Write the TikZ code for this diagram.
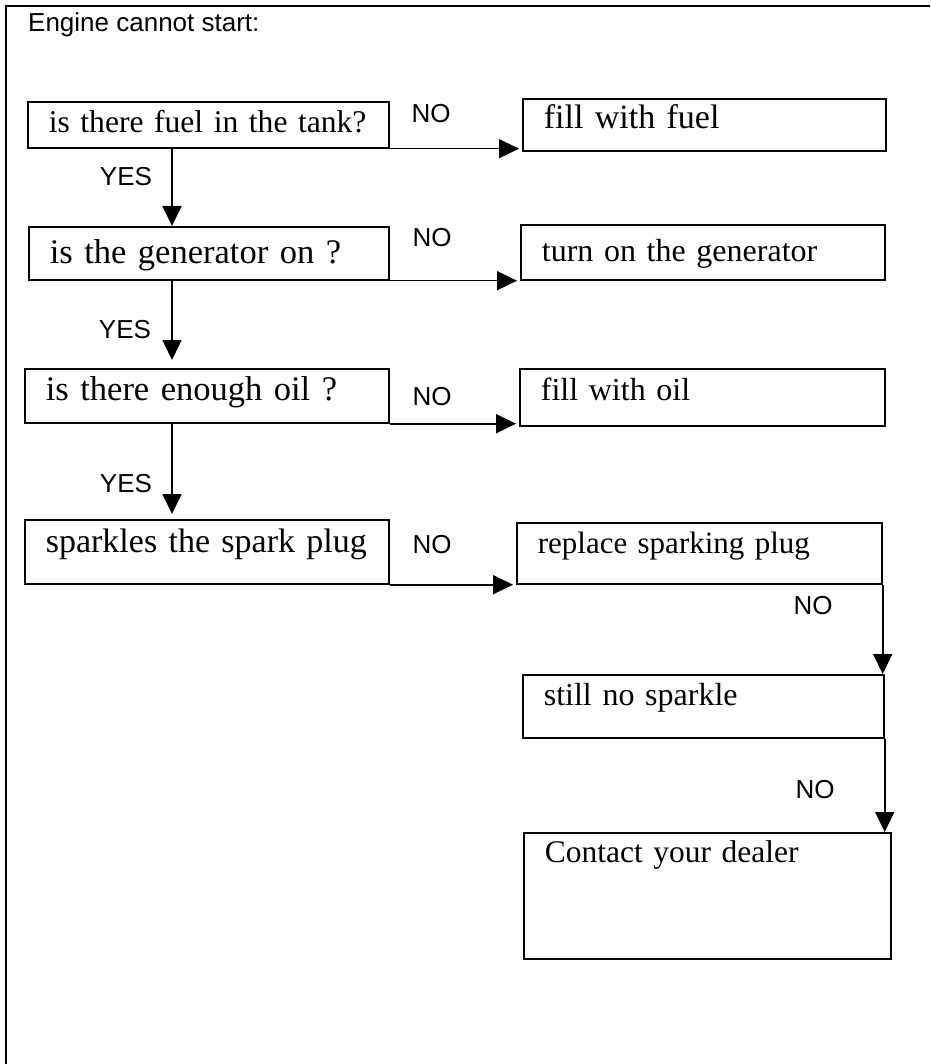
\documentclass[tikz,border=0pt]{standalone}
\usepackage{fontspec}
\setmainfont{Liberation Serif}
\setsansfont{Liberation Sans}
\usepackage{tikz}
\usetikzlibrary{arrows.meta}
\newcommand{\boxfont}[1]{\fontsize{#1}{#1}\selectfont}
\newcommand{\tagfont}{\sffamily\fontsize{26}{31}\selectfont}

\begin{document}
\begin{tikzpicture}[
    x=1pt, y=-1pt,
    qbox/.style={rectangle, draw, line width=1.7pt, anchor=north west, inner xsep=21pt, inner ysep=0pt, text height=31pt, align=left, font=\boxfont{34.5}},
    abox/.style={qbox, font=\boxfont{32}},
    tag/.style={anchor=base, inner sep=0pt, font=\tagfont},
    arrow/.style={-{Triangle[length=20pt, width=19pt]}, line width=1.6pt}
]
\useasboundingbox (0,0) rectangle (930,1064);

% Page frame
\draw[line width=2pt] (930,6) -- (6,6) -- (6,1064);
\node[anchor=base west, inner sep=0pt, font=\tagfont] (title) at (28,32) {Engine cannot start:};

% Checks
\node[qbox, font=\boxfont{31.6}, text width=319pt, text depth=15pt] (fuel) at (27,101) {\mbox{is there fuel in the tank?}};
\node[qbox, text width=318pt, text height=37pt, text depth=16pt] (gen) at (28,226) {is the generator on ?};
\node[qbox, text width=322pt, text height=32pt, text depth=22pt] (oil) at (24,368) {is there enough oil ?};
\node[qbox, font=\boxfont{34}, text width=322pt, text height=33pt, text depth=31pt] (spark) at (24,519) {\mbox{sparkles the spark plug}};

% Remedies
\node[abox, font=\boxfont{34}, text width=321pt, text height=30pt, text depth=22pt] (fillfuel) at (522,98) {fill with fuel};
\node[abox, text width=322pt, text height=37pt, text depth=18pt] (turnon) at (520,224) {turn on the generator};
\node[abox, text width=323pt, text height=32pt, text depth=25pt] (filloil) at (519,368) {fill with oil};
\node[abox, font=\boxfont{31}, text width=323pt, text depth=30pt] (replace) at (516,522) {replace sparking plug};
\node[abox, text width=319pt, text depth=32pt] (still) at (522,674) {still no sparkle};
\node[abox, font=\boxfont{31.5}, text width=325pt, text height=30pt, text depth=96pt] (dealer) at (523,832) {Contact your dealer};

% YES path
\coordinate (spine) at (172,0);
\draw[arrow] (spine |- fuel.south) -- (spine |- gen.north);
\draw[arrow, shorten >=8pt] (spine |- gen.south) -- (spine |- oil.north);
\draw[arrow, shorten >=5pt] (spine |- oil.south) -- (spine |- spark.north);

\node[tag] (yes1) at (126,186) {YES};
\node[tag] (yes2) at (125,338) {YES};
\node[tag] (yes3) at (126,492) {YES};

% NO branches
\draw[arrow, shorten >=3pt] (fuel.south east) -- (fuel.south east -| fillfuel.west);
\draw[arrow, shorten >=3pt] (gen.south east) -- (gen.south east -| turnon.west);
\draw[arrow, shorten >=3pt] (oil.south east) -- (oil.south east -| filloil.west);
\draw[arrow, shorten >=3pt] (spark.south east) -- (spark.south east -| replace.west);
\draw[arrow] (replace.south east) -- (replace.south east |- still.north);
\draw[arrow] (still.south east) -- (still.south east |- dealer.north);

\node[tag] (no1) at (431,123) {NO};
\node[tag] (no2) at (432,247) {NO};
\node[tag] (no3) at (432,405) {NO};
\node[tag] (no4) at (432,553) {NO};
\node[tag] (no5) at (813,614) {NO};
\node[tag] (no6) at (815,798) {NO};

\end{tikzpicture}
\end{document}
